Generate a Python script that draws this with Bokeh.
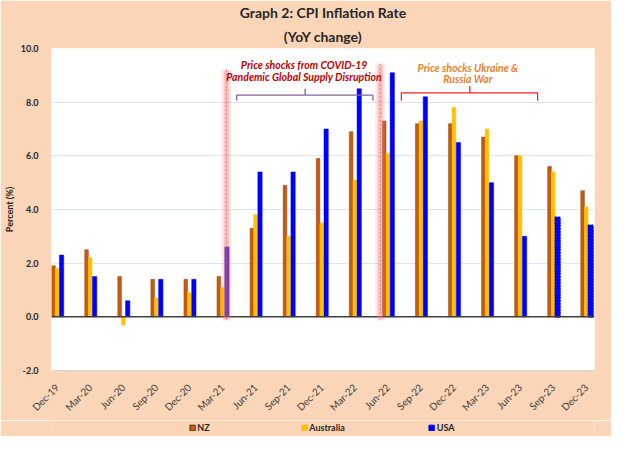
import numpy as np
from bokeh.plotting import figure
from bokeh.layouts import column
from bokeh.models import (ColumnDataSource, Range1d, FixedTicker, Legend, LegendItem,
                          Title, BoxAnnotation, Label, Span, NumeralTickFormatter)
from bokeh.embed import file_html
from bokeh.resources import INLINE

# ---------------- data ----------------
quarters = ["Dec-19", "Mar-20", "Jun-20", "Sep-20", "Dec-20", "Mar-21", "Jun-21", "Sep-21",
            "Dec-21", "Mar-22", "Jun-22", "Sep-22", "Dec-22", "Mar-23", "Jun-23", "Sep-23", "Dec-23"]
nz = [1.9, 2.5, 1.5, 1.4, 1.4, 1.5, 3.3, 4.9, 5.9, 6.9, 7.3, 7.2, 7.2, 6.7, 6.0, 5.6, 4.7]
australia = [1.8, 2.2, -0.3, 0.7, 0.9, 1.1, 3.8, 3.0, 3.5, 5.1, 6.1, 7.3, 7.8, 7.0, 6.0, 5.4, 4.1]
usa = [2.3, 1.5, 0.6, 1.4, 1.4, 2.6, 5.4, 5.4, 7.0, 8.5, 9.1, 8.2, 6.5, 5.0, 3.0, 3.7, 3.4]
usa_estimate = [False] * 15 + [True, True]
series_names = ["NZ", "Australia", "USA"]
y_ticks = [-2, 0, 2, 4, 6, 8, 10]

FONT = "Lato"
PEACH = "#FAD5B7"
NZ_C, AU_C, US_C = "#C55A11", "#FFC000", "#0000FF"

idx = np.arange(len(quarters))
src = ColumnDataSource(dict(
    x_nz=idx - 0.11, x_au=idx + 0.0, x_us=idx + 0.135,
    nz=nz, au=australia, us=usa))
est = [i for i, f in enumerate(usa_estimate) if f]
src_est = ColumnDataSource(dict(x_us=idx[est] + 0.135, us=[usa[i] for i in est]))

p = figure(width=611, height=420, x_range=Range1d(-0.17, 16.25), y_range=Range1d(-2, 10),
           output_backend="svg", toolbar_location=None,
           min_border_left=40, min_border_right=17, min_border_top=2, min_border_bottom=36,
           border_fill_color=PEACH, background_fill_color="white", outline_line_color=None)

# titles
p.add_layout(Title(text="(YoY change)", align="center", text_font=FONT, text_font_size="14px",
                   text_font_style="bold", text_color="#262626", standoff=8), "above")
p.add_layout(Title(text="Graph 2: CPI Inflation Rate", align="center", text_font=FONT,
                   text_font_size="14px", text_font_style="bold", text_color="#262626",
                   standoff=2), "above")

# grid
p.xgrid.visible = False
p.ygrid.ticker = FixedTicker(ticks=y_ticks)
p.ygrid.grid_line_color = "#DCE6F1"
p.ygrid.grid_line_width = 1.2

# bars
p.vbar(x="x_nz", top="nz", bottom=0, width=0.11, source=src, fill_color=NZ_C,
       line_color="#A0470C", line_width=0.5)
p.vbar(x="x_au", top="au", bottom=0, width=0.11, source=src, fill_color=AU_C,
       line_color=AU_C, line_width=0.5)
p.vbar(x="x_us", top="us", bottom=0, width=0.13, source=src, fill_color=US_C,
       line_color=US_C, line_width=0.5)
p.vbar(x="x_us", top="us", bottom=0, width=0.13, source=src_est, fill_color=US_C,
       line_color=US_C, line_width=2, line_dash="1 2", line_cap="round")

p.add_layout(Span(location=0, dimension="width", line_color="#404040", line_width=1.5))

# shaded event bands
for cx, top in [(5.12, 9.22), (9.77, 9.43)]:
    p.add_layout(BoxAnnotation(left=cx - 0.15, right=cx + 0.15, top=top, bottom=-0.15,
                               fill_color="#FF8080", fill_alpha=0.18, line_color=None))
    p.add_layout(BoxAnnotation(left=cx - 0.08, right=cx + 0.08, top=top - 0.05, bottom=-0.1,
                               fill_color="#F08080", fill_alpha=0.35, line_color=None))
    p.segment(x0=[cx], y0=[top], x1=[cx], y1=[-0.1], line_color="#D04040",
              line_width=1, line_dash="2 2", line_alpha=0.8)

# braces
def brace(x0, x1, xt, y, yend, ytip, color):
    p.line([x0, x0, xt - 0.08, xt, xt, xt, xt + 0.08, x1, x1],
           [yend, y, y, y, ytip, y, y, y, yend], line_color=color, line_width=1.3)

brace(5.43, 9.55, 7.5, 8.26, 8.05, 8.5, "#8064A2")
brace(10.41, 14.53, 12.48, 8.35, 8.05, 8.6, "#FF2020")

for txt, x, y, c in [("Price shocks from COVID-19", 7.47, 9.38, "#C00000"),
                     ("Pandemic Global Supply Disruption", 7.47, 8.92, "#C00000"),
                     ("Price shocks Ukraine &", 12.42, 9.27, "#E8812F"),
                     ("Russia War", 12.42, 8.85, "#E8812F")]:
    p.add_layout(Label(x=x, y=y, text=txt, text_align="center", text_baseline="middle",
                       text_font=FONT, text_font_size="10.5px", text_font_style="bold italic",
                       text_color=c))

# axes
ya = p.yaxis[0]
ya.ticker = FixedTicker(ticks=y_ticks)
ya.formatter = NumeralTickFormatter(format="0.0")
ya.major_tick_line_color = None
ya.minor_tick_line_color = None
ya.axis_line_color = None
ya.major_label_text_font = FONT
ya.major_label_text_font_size = "9px"
ya.major_label_text_font_style = "bold"
ya.major_label_text_color = "#262626"
ya.major_label_standoff = 7
ya.axis_label = "Percent (%)"
ya.axis_label_text_font = FONT
ya.axis_label_text_font_size = "9px"
ya.axis_label_text_font_style = "bold"
ya.axis_label_text_color = "#262626"
ya.axis_label_standoff = 3

xa = p.xaxis[0]
xa.ticker = FixedTicker(ticks=list(range(len(quarters))))
xa.major_label_overrides = {i: q for i, q in enumerate(quarters)}
xa.major_label_orientation = np.pi / 4
xa.major_tick_line_color = None
xa.minor_tick_line_color = None
xa.axis_line_color = "#D9D9D9"
xa.major_label_text_font = FONT
xa.major_label_text_font_size = "10px"
xa.major_label_text_color = "#404040"
xa.major_label_standoff = 9

# ---- legend strip (separate small figure below; bars kept out of its view) ----
lg = figure(width=611, height=16, x_range=Range1d(100, 101), y_range=Range1d(100, 101),
            output_backend="svg", toolbar_location=None,
            min_border_left=40, min_border_right=17, min_border_top=0, min_border_bottom=0,
            border_fill_color=PEACH, background_fill_color=PEACH, outline_line_color=None)
lg.axis.visible = False
lg.grid.visible = False
items = []
for name, xcol, ycol, col, edge in zip(series_names, ["x_nz", "x_au", "x_us"], ["nz", "au", "us"],
                                      [NZ_C, AU_C, US_C], ["#5A2A08", AU_C, US_C]):
    r = lg.vbar(x=xcol, top=ycol, bottom=0, width=0.1, source=src,
                fill_color=col, line_color=edge, line_width=1)
    items.append(LegendItem(label=name, renderers=[r]))
legend = Legend(items=items, orientation="horizontal", location="top_center", spacing=83,
                glyph_width=7, glyph_height=7, label_standoff=2, label_height=10,
                label_text_font=FONT, label_text_font_size="9px", label_text_font_style="bold",
                label_text_color="#262626", background_fill_alpha=0, border_line_alpha=0,
                padding=0, margin=2)
lg.add_layout(legend, "center")

open("out.html", "w").write(file_html(column(p, lg, spacing=0), INLINE))
